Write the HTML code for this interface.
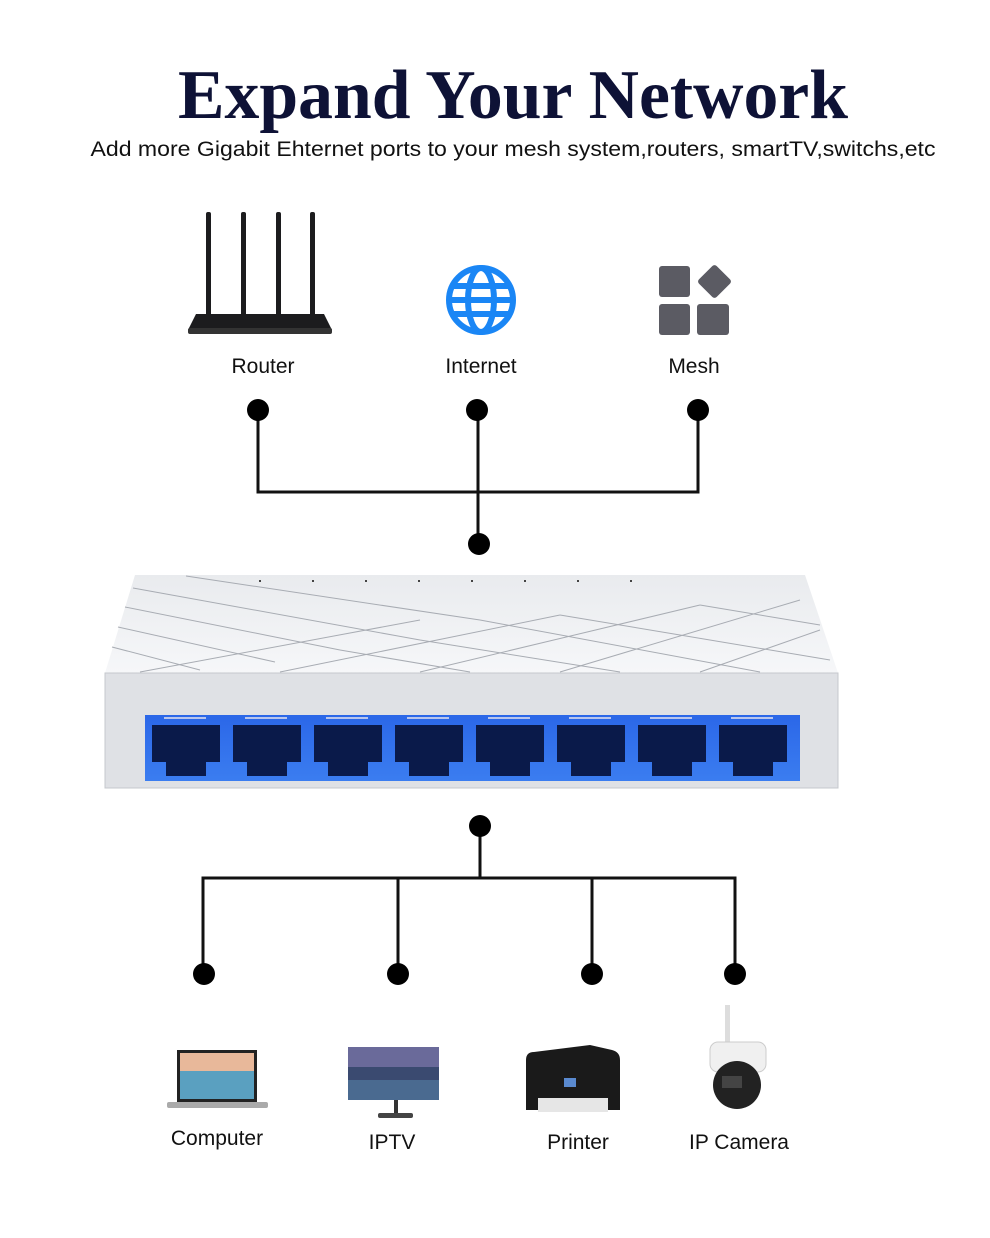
<!DOCTYPE html>
<html><head><style>
body{margin:0;background:#fff;}
svg{display:block;}
text{font-family:"Liberation Sans",sans-serif;}
</style></head><body>
<svg width="990" height="1238" viewBox="0 0 990 1238" xmlns="http://www.w3.org/2000/svg">
<rect width="990" height="1238" fill="#fff"/>
<text x="513" y="118" text-anchor="middle" style="font-family:'Liberation Serif',serif;font-weight:bold;font-size:70px" fill="#0e1236" textLength="670" lengthAdjust="spacingAndGlyphs">Expand Your Network</text>
<text x="513" y="156" text-anchor="middle" font-size="21" fill="#111" textLength="845" lengthAdjust="spacingAndGlyphs">Add more Gigabit Ehternet ports to your mesh system,routers, smartTV,switchs,etc</text>

<!-- router -->
<g fill="#1c1c1e">
<rect x="206" y="212" width="5" height="105" rx="2"/>
<rect x="241" y="212" width="5" height="105" rx="2"/>
<rect x="276" y="212" width="5" height="105" rx="2"/>
<rect x="310" y="212" width="5" height="105" rx="2"/>
<path d="M196 314 L324 314 L332 330 L188 330 Z"/>
<rect x="188" y="328" width="144" height="6" rx="2" fill="#333"/>
</g>
<text x="263" y="373" text-anchor="middle" font-size="21" fill="#111">Router</text>
<!-- globe -->
<g fill="none" stroke="#1a86f5" stroke-width="6">
<circle cx="481" cy="300" r="32"/>
<ellipse cx="481" cy="300" rx="13" ry="32"/>
<line x1="449" y1="300" x2="513" y2="300"/>
<line x1="452" y1="286" x2="510" y2="286"/>
<line x1="452" y1="314" x2="510" y2="314"/>
</g>
<text x="481" y="373" text-anchor="middle" font-size="21" fill="#111">Internet</text>
<!-- mesh -->
<g fill="#5b5b63">
<rect x="659" y="266" width="31" height="31" rx="3"/>
<rect x="702" y="269" width="25" height="25" rx="3" transform="rotate(45 714.5 281.5)"/>
<rect x="659" y="304" width="31" height="31" rx="3"/>
<rect x="697" y="304" width="32" height="31" rx="3"/>
</g>
<text x="694" y="373" text-anchor="middle" font-size="21" fill="#111">Mesh</text>

<g stroke="#111" stroke-width="3" fill="none">
<polyline points="258,410 258,492 698,492 698,410"/>
<line x1="478" y1="410" x2="478" y2="544"/>
<line x1="480" y1="826" x2="480" y2="878"/>
<polyline points="203,974 203,878 735,878 735,974"/>
<line x1="398" y1="878" x2="398" y2="974"/>
<line x1="592" y1="878" x2="592" y2="974"/>
</g>
<g fill="#000">
<circle cx="258" cy="410" r="11"/><circle cx="477" cy="410" r="11"/><circle cx="698" cy="410" r="11"/>
<circle cx="479" cy="544" r="11"/><circle cx="480" cy="826" r="11"/>
<circle cx="204" cy="974" r="11"/><circle cx="398" cy="974" r="11"/><circle cx="592" cy="974" r="11"/><circle cx="735" cy="974" r="11"/>
</g>

<defs>
<linearGradient id="top" x1="0" y1="0" x2="0" y2="1"><stop offset="0" stop-color="#e9ebee"/><stop offset="1" stop-color="#f6f7f9"/></linearGradient>
<linearGradient id="blue" x1="0" y1="0" x2="0" y2="1"><stop offset="0" stop-color="#2b67e8"/><stop offset="1" stop-color="#3b7df0"/></linearGradient>
</defs>
<path d="M135 575 L805 575 L838 673 L105 673 Z" fill="url(#top)"/>
<g stroke="#a8acb3" stroke-width="1">
<line x1="186" y1="576" x2="480" y2="620"/>
<line x1="133" y1="588" x2="420" y2="640"/>
<line x1="125" y1="607" x2="340" y2="650"/>
<line x1="118" y1="627" x2="275" y2="662"/>
<line x1="112" y1="647" x2="200" y2="670"/>
<line x1="140" y1="672" x2="420" y2="620"/>
<line x1="280" y1="672" x2="560" y2="615"/>
<line x1="420" y1="672" x2="700" y2="605"/>
<line x1="560" y1="672" x2="800" y2="600"/>
<line x1="700" y1="672" x2="820" y2="630"/>
<line x1="480" y1="620" x2="760" y2="672"/>
<line x1="420" y1="640" x2="620" y2="672"/>
<line x1="560" y1="615" x2="830" y2="660"/>
<line x1="700" y1="605" x2="820" y2="625"/>
<line x1="340" y1="650" x2="470" y2="672"/>
</g>
<g fill="#444"><rect x="259" y="580" width="2" height="2"/><rect x="312" y="580" width="2" height="2"/><rect x="365" y="580" width="2" height="2"/><rect x="418" y="580" width="2" height="2"/><rect x="471" y="580" width="2" height="2"/><rect x="524" y="580" width="2" height="2"/><rect x="577" y="580" width="2" height="2"/><rect x="630" y="580" width="2" height="2"/></g>
<rect x="105" y="673" width="733" height="115" fill="#dfe1e5"/>
<rect x="105" y="673" width="733" height="115" fill="none" stroke="#c5c8cd"/>
<rect x="145" y="715" width="655" height="66" fill="url(#blue)"/>
<g fill="#0a1a4a">
<path d="M152 725 h68 v37 h-14 v14 h-40 v-14 h-14 z"/>
<path d="M233 725 h68 v37 h-14 v14 h-40 v-14 h-14 z"/>
<path d="M314 725 h68 v37 h-14 v14 h-40 v-14 h-14 z"/>
<path d="M395 725 h68 v37 h-14 v14 h-40 v-14 h-14 z"/>
<path d="M476 725 h68 v37 h-14 v14 h-40 v-14 h-14 z"/>
<path d="M557 725 h68 v37 h-14 v14 h-40 v-14 h-14 z"/>
<path d="M638 725 h68 v37 h-14 v14 h-40 v-14 h-14 z"/>
<path d="M719 725 h68 v37 h-14 v14 h-40 v-14 h-14 z"/>
</g>
<g fill="#dde" opacity="0.8">
<rect x="164" y="717" width="42" height="2"/><rect x="245" y="717" width="42" height="2"/><rect x="326" y="717" width="42" height="2"/><rect x="407" y="717" width="42" height="2"/><rect x="488" y="717" width="42" height="2"/><rect x="569" y="717" width="42" height="2"/><rect x="650" y="717" width="42" height="2"/><rect x="731" y="717" width="42" height="2"/>
</g>

<rect x="177" y="1050" width="80" height="52" fill="#222"/>
<rect x="180" y="1053" width="74" height="46" fill="#5aa0c0"/>
<rect x="180" y="1053" width="74" height="18" fill="#e8b89a"/>
<rect x="167" y="1102" width="101" height="6" rx="2" fill="#aaa"/>
<text x="217" y="1145" text-anchor="middle" font-size="21" fill="#111">Computer</text>

<rect x="348" y="1047" width="91" height="53" fill="#3a4a70"/>
<rect x="348" y="1047" width="91" height="20" fill="#6a6a9a"/>
<rect x="348" y="1080" width="91" height="20" fill="#4a6a90"/>
<rect x="394" y="1100" width="4" height="14" fill="#333"/>
<rect x="378" y="1113" width="35" height="5" rx="2" fill="#444"/>
<text x="392" y="1149" text-anchor="middle" font-size="21" fill="#111">IPTV</text>

<path d="M526 1060 Q526 1052 534 1052 L590 1045 L612 1050 Q620 1052 620 1060 L620 1110 L526 1110 Z" fill="#1a1a1a"/>
<rect x="538" y="1098" width="70" height="14" fill="#e6e6e6"/>
<rect x="564" y="1078" width="12" height="9" fill="#5a8ad0"/>
<text x="578" y="1149" text-anchor="middle" font-size="21" fill="#111">Printer</text>

<rect x="725" y="1005" width="5" height="40" fill="#ddd"/>
<rect x="710" y="1042" width="56" height="30" rx="8" fill="#f0f0f0" stroke="#ccc"/>
<circle cx="737" cy="1085" r="24" fill="#222"/>
<rect x="722" y="1076" width="20" height="12" fill="#444"/>
<text x="739" y="1149" text-anchor="middle" font-size="21" fill="#111">IP Camera</text>
</svg>
</body></html>
